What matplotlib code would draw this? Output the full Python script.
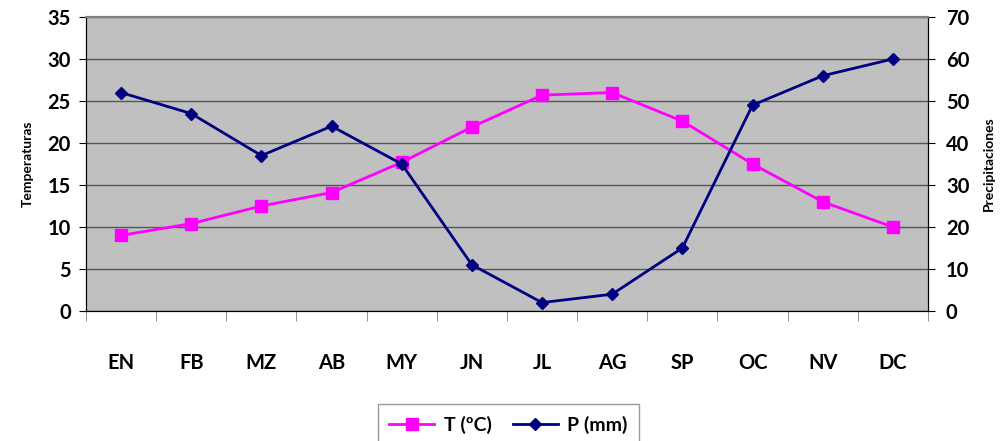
import matplotlib

matplotlib.use("Agg")
import matplotlib.pyplot as plt
import numpy as np

months = ["EN", "FB", "MZ", "AB", "MY", "JN", "JL", "AG", "SP", "OC", "NV", "DC"]
temp_c = [9.0, 10.4, 12.5, 14.1, 17.7, 21.9, 25.7, 26.0, 22.6, 17.5, 13.0, 10.0]
precip_mm = [52, 47, 37, 44, 35, 11, 2, 4, 15, 49, 56, 60]

plt.rcParams["font.family"] = ["Lato", "DejaVu Sans"]
plt.rcParams["font.weight"] = "bold"

fig = plt.figure(figsize=(10.01, 4.41), dpi=100)
ax = fig.add_axes([0.0859, 0.2948, 0.8411, 0.6667])
ax2 = ax.twinx()

x = np.arange(len(months))
ax.set_facecolor("#C0C0C0")
ax.set_xlim(-0.5, len(months) - 0.5)
ax.set_ylim(0, 35)
ax.set_yticks(np.arange(0, 36, 5))
ax2.set_ylim(0, 70)
ax2.set_yticks(np.arange(0, 71, 10))

ax.yaxis.grid(True, color="#555555", linewidth=1.0)
ax.set_axisbelow(True)

l1, = ax.plot(x, temp_c, color="#FF00FF", linewidth=2, marker="s", markersize=8,
              markeredgecolor="#FF00FF", label="T (ºC)", zorder=3)
l2, = ax2.plot(x, precip_mm, color="#000080", linewidth=2, marker="D", markersize=6,
               label="P (mm)", zorder=3)

# category ticks: labels centred, tick marks on boundaries
ax.set_xticks(x)
ax.set_xticklabels(months, fontsize=14.5, fontweight="bold")
ax.tick_params(axis="x", which="major", length=0, pad=30)
ax.set_xticks(np.arange(-0.5, len(months)), minor=True)
ax.tick_params(axis="x", which="minor", length=7, color="#808080")

ax.tick_params(axis="y", labelsize=14.5, length=5, pad=6)
ax2.tick_params(axis="y", labelsize=14.5, length=5, pad=8)
for lbl in ax.get_yticklabels() + ax2.get_yticklabels():
    lbl.set_fontweight("bold")

ax.set_ylabel("Temperaturas", fontsize=10, fontweight="bold", labelpad=10)
ax2.set_ylabel("Precipitaciones", fontsize=10, fontweight="bold", labelpad=10)

for a in (ax, ax2):
    a.spines["top"].set_color("#808080")
    a.spines["top"].set_linewidth(1.5)
    a.spines["left"].set_color("black")
    a.spines["right"].set_color("black")
    a.spines["bottom"].set_color("black")

leg = fig.legend(handles=[l1, l2], loc="upper center", bbox_to_anchor=(0.508, 0.105),
                 ncol=2, fontsize=14, frameon=True, fancybox=False,
                 edgecolor="#808080", handlelength=2.3, handletextpad=0.5,
                 columnspacing=1.1, borderpad=0.6)
for t in leg.get_texts():
    t.set_fontweight("bold")

fig.savefig("out.png", dpi=100)
